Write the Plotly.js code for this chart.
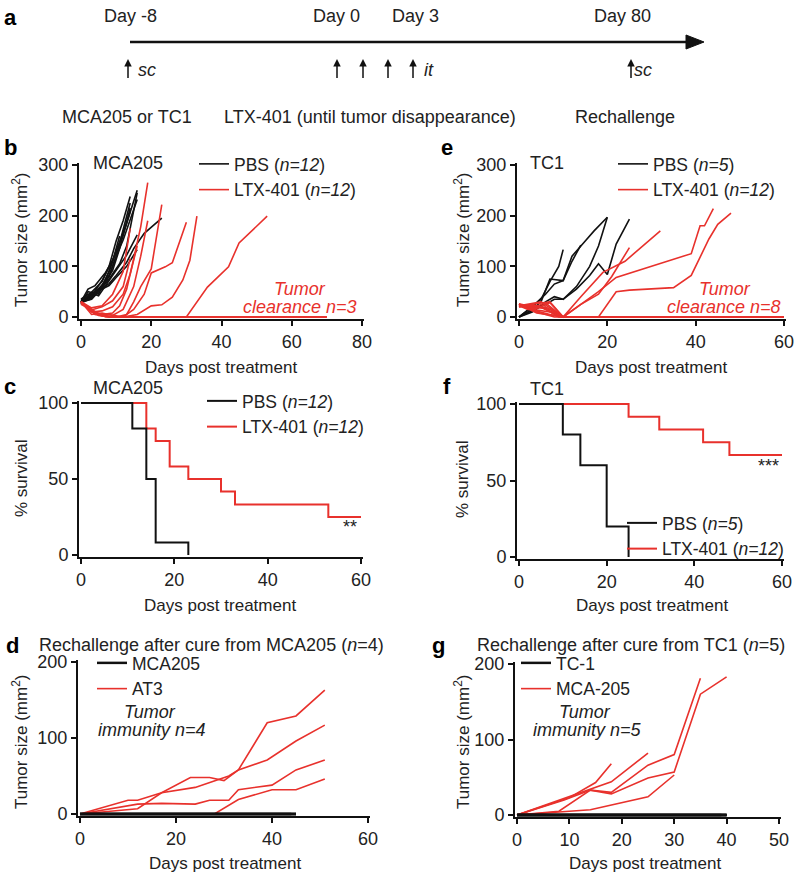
<!DOCTYPE html>
<html>
<head>
<meta charset="utf-8">
<script src="https://cdn.plot.ly/plotly-3.0.1.min.js"></script>
<style>
  html, body { margin: 0; padding: 0; background: #fff; }
  #fig { width: 800px; height: 875px; }
</style>
</head>
<body>
<div id="fig"></div>
<script>
// ---- data ----
// b: MCA205 tumour growth (days, mm2)
var mcaPbsDays = [
  [0, 3, 6, 8, 10, 13, 16], [0, 3, 6, 8, 10, 12, 14], [0, 3, 5, 8, 10, 12, 14],
  [0, 2, 5, 7, 9, 11], [0, 3, 6, 8, 11, 13, 16], [0, 3, 5, 8, 10, 13, 15, 18, 23],
  [0, 2, 5, 8, 10, 13, 16], [0, 3, 6, 9, 11, 14], [0, 3, 5, 8, 10, 12, 16],
  [0, 2, 4, 7, 9, 11], [0, 3, 6, 9, 12, 14], [0, 3, 5, 7, 10, 13, 16]
];
var mcaPbsSize = [
  [30, 45, 62, 90, 130, 185, 250], [28, 50, 70, 100, 150, 190, 238], [32, 40, 55, 80, 120, 170, 225],
  [25, 50, 45, 72, 110, 160], [30, 35, 58, 75, 105, 140, 245], [30, 38, 52, 66, 82, 108, 135, 165, 195],
  [35, 45, 52, 62, 78, 100, 133], [30, 44, 58, 92, 135, 215], [28, 36, 50, 82, 120, 152, 232],
  [30, 55, 62, 88, 112, 142], [33, 42, 72, 112, 162, 208], [30, 47, 42, 62, 92, 122, 162]
];
var mcaLtxDays = [
  [0, 3, 6, 9, 11, 13, 15, 17, 19], [0, 3, 6, 10, 13, 15, 17, 20, 23],
  [0, 4, 8, 12, 15, 18, 20, 24, 26, 28, 30], [0, 4, 8, 12, 16, 20, 23, 26, 29, 31, 33],
  [0, 5, 10, 15, 20, 25, 30, 36, 42, 45, 53], [0, 3, 6, 9, 12, 14], [0, 3, 6, 9, 12, 14],
  [0, 3, 6, 9, 12, 14, 16], [0, 3, 6, 9, 12, 15, 17, 19],
  [0, 4, 8, 70], [0, 3, 7, 70], [0, 5, 9, 70]
];
var mcaLtxSize = [
  [30, 12, 5, 8, 22, 55, 115, 178, 265], [30, 10, 2, 0, 5, 30, 60, 95, 222],
  [30, 5, 0, 0, 15, 45, 87, 99, 107, 148, 187], [30, 8, 5, 0, 5, 22, 24, 39, 73, 112, 199],
  [30, 3, 0, 0, 0, 0, 0, 59, 99, 146, 199], [30, 18, 22, 45, 90, 175], [25, 14, 20, 32, 60, 115],
  [30, 10, 12, 20, 45, 85, 140], [30, 5, 8, 3, 15, 60, 120, 190],
  [30, 8, 0, 0], [28, 12, 0, 0], [30, 6, 0, 0]
];

// e: TC1 tumour growth
var tc1PbsDays = [
  [0, 3, 5, 7, 9, 10], [0, 3, 5, 7, 10, 12, 14], [0, 3, 6, 8, 10, 13, 16, 18, 20],
  [0, 3, 6, 8, 10, 13, 16, 18, 20, 22, 25], [0, 3, 6, 8, 10, 12, 15, 17, 20]
];
var tc1PbsSize = [
  [0, 20, 35, 70, 100, 133], [0, 15, 30, 75, 72, 110, 142], [0, 10, 30, 40, 35, 60, 100, 140, 197],
  [0, 12, 25, 35, 35, 55, 82, 105, 84, 144, 193], [0, 20, 45, 65, 72, 120, 150, 170, 197]
];
var tc1LtxDays = [
  [0, 4, 7, 10, 14, 18, 22, 35, 39, 41, 42, 44], [0, 4, 7, 10, 14, 18, 22, 25, 35, 39, 43, 45, 48],
  [0, 3, 7, 10, 14, 19, 24, 28, 32], [0, 3, 7, 10, 14, 18, 21, 25],
  [0, 3, 7, 10, 60], [0, 5, 10, 60], [0, 3, 6, 10, 60], [0, 4, 8, 60],
  [0, 3, 7, 10, 60], [0, 5, 9, 60], [0, 2, 6, 10, 60], [0, 4, 10, 60]
];
var tc1LtxSize = [
  [25, 18, 28, 0, 25, 50, 78, 115, 125, 180, 180, 214], [25, 12, 5, 0, 0, 0, 50, 53, 58, 82, 154, 183, 205],
  [20, 25, 30, 0, 40, 88, 110, 140, 170], [25, 15, 10, 0, 25, 45, 80, 137],
  [25, 22, 15, 0, 0], [22, 30, 0, 0], [25, 18, 28, 0, 0], [24, 10, 0, 0],
  [20, 25, 12, 0, 0], [25, 20, 0, 0], [22, 15, 20, 0, 0], [25, 8, 0, 0]
];

// c, f: survival (%)
var mcaSurvPbsDays = [0, 11, 14, 16, 23];
var mcaSurvPbs = [100, 83.3, 50, 8.3, 0];
var mcaSurvLtxDays = [0, 14, 16, 19, 23, 30, 33, 53, 60];
var mcaSurvLtx = [100, 83.3, 75, 58.3, 50, 41.7, 33.3, 25, 25];
var tc1SurvPbsDays = [0, 10, 14, 20, 25];
var tc1SurvPbs = [100, 80, 60, 20, 0];
var tc1SurvLtxDays = [0, 25, 32, 42, 48, 60];
var tc1SurvLtx = [100, 91.7, 83.3, 75, 66.7, 66.7];

// d: rechallenge after cure from MCA205
var reMcaDays = [[0, 45], [0, 45], [0, 44], [0, 45]];
var reMcaSize = [[0, 0], [0, 0], [0, 0], [0, 0]];
var reAt3Days = [
  [0, 10, 12, 17, 23, 27, 30, 33, 39, 45, 51], [0, 12, 17, 24, 31, 33, 39, 45, 51],
  [0, 12, 17, 24, 27, 31, 33, 40, 45, 51], [0, 28, 33, 40, 45, 51]
];
var reAt3Size = [
  [0, 18, 18, 28, 48, 48, 44, 58, 120, 129, 163], [0, 7, 28, 35, 50, 58, 71, 96, 117],
  [0, 13, 14, 13, 18, 18, 32, 38, 58, 71], [0, 0, 19, 32, 32, 46]
];

// g: rechallenge after cure from TC1
var reTc1Days = [[0, 40], [0, 40], [0, 40], [0, 39], [0, 40]];
var reTc1Size = [[0, 0], [0, 0], [0, 0], [0, 0], [0, 0]];
var reMca205Days = [
  [0, 10, 15, 18], [0, 8, 14, 18, 25], [0, 9, 14, 18, 25, 30, 35],
  [0, 8, 14, 18, 25, 30, 35, 40], [0, 9, 14, 25, 30]
];
var reMca205Size = [
  [0, 23, 43, 68], [0, 20, 35, 44, 82], [0, 20, 33, 30, 66, 80, 181],
  [0, 5, 33, 28, 49, 57, 160, 183], [0, 4, 7, 24, 53]
];

// ---- drawing ----
var W = 800, H = 875, PAD = 2;
var BLACK = "#111111", RED = "#e8312c", INK = "#222222";
var FONT = "Liberation Sans, Arial, sans-serif";

function lines(daysList, sizeList, color, xa, ya, name, legendId, rank) {
  return daysList.map(function (d, i) {
    return {
      type: "scatter", mode: "lines", x: d, y: sizeList[i], xaxis: xa, yaxis: ya,
      line: { color: color, width: 1.6 },
      name: name, legend: legendId, legendgroup: legendId + rank,
      showlegend: i === 0, legendrank: rank, hoverinfo: "skip"
    };
  });
}

function steps(days, vals, color, xa, ya, name, legendId, rank) {
  return {
    type: "scatter", mode: "lines", x: days, y: vals, xaxis: xa, yaxis: ya,
    line: { color: color, width: 2, shape: "hv" },
    name: name, legend: legendId, legendrank: rank, hoverinfo: "skip"
  };
}

// pixel boxes of each panel: x0/x1 = pixel of range min/max, y0/y1 = pixel of range min/max
var boxes = [
  { x0: 81, x1: 362, y0: 317, y1: 165, xr: [0, 80], yr: [0, 300], xd: 20, yd: 100 }, // b
  { x0: 519, x1: 784, y0: 317, y1: 165, xr: [0, 60], yr: [0, 300], xd: 20, yd: 100 }, // e
  { x0: 81, x1: 361, y0: 555, y1: 403, xr: [0, 60], yr: [0, 100], xd: 20, yd: 50 },  // c
  { x0: 519, x1: 782, y0: 557, y1: 404, xr: [0, 60], yr: [0, 100], xd: 20, yd: 50 }, // f
  { x0: 80, x1: 368, y0: 814, y1: 662, xr: [0, 60], yr: [0, 200], xd: 20, yd: 100 }, // d
  { x0: 517, x1: 779, y0: 815, y1: 664, xr: [0, 50], yr: [0, 200], xd: 10, yd: 100 }  // g
];

var layout = {
  width: W, height: H,
  margin: { l: 0, r: 0, t: 0, b: 0 },
  paper_bgcolor: "#fff", plot_bgcolor: "rgba(0,0,0,0)",
  font: { family: FONT, size: 18, color: INK },
  annotations: [], shapes: []
};

boxes.forEach(function (b, i) {
  var n = i === 0 ? "" : String(i + 1);
  var kx = (b.xr[1] - b.xr[0]) / (b.x1 - b.x0);
  var ky = (b.yr[1] - b.yr[0]) / (b.y0 - b.y1);
  var common = {
    showline: true, linecolor: BLACK, linewidth: 2, mirror: false,
    ticks: "outside", ticklen: 5, tickwidth: 2, tickcolor: BLACK,
    showgrid: false, zeroline: false, fixedrange: true, tick0: 0,
    tickfont: { family: FONT, size: 18, color: INK }
  };
  layout["xaxis" + n] = Object.assign({}, common, {
    domain: [(b.x0 - PAD) / W, (b.x1 + PAD) / W],
    range: [b.xr[0] - PAD * kx, b.xr[1] + PAD * kx],
    dtick: b.xd, anchor: "y" + n
  });
  layout["yaxis" + n] = Object.assign({}, common, {
    domain: [1 - (b.y0 + PAD) / H, 1 - (b.y1 - PAD) / H],
    range: [b.yr[0] - PAD * ky, b.yr[1] + PAD * ky],
    dtick: b.yd, anchor: "x" + n
  });
});

function legendAt(x, y) {
  return {
    x: x / W, y: 1 - y / H, xanchor: "left", yanchor: "top",
    bgcolor: "rgba(0,0,0,0)", borderwidth: 0, itemwidth: 30,
    font: { family: FONT, size: 17.5, color: INK }, traceorder: "normal", tracegroupgap: 0
  };
}
layout.legend = legendAt(194, 146);
layout.legend2 = legendAt(613, 146);
layout.legend3 = legendAt(202, 383);
layout.legend4 = legendAt(622, 505);
layout.legend5 = legendAt(92, 645);
layout.legend6 = legendAt(516, 645);

var data = []
  .concat(lines(mcaPbsDays, mcaPbsSize, BLACK, "x", "y", "PBS (<i>n=12</i>)", "legend", 1))
  .concat(lines(mcaLtxDays, mcaLtxSize, RED, "x", "y", "LTX-401 (<i>n=12</i>)", "legend", 2))
  .concat(lines(tc1PbsDays, tc1PbsSize, BLACK, "x2", "y2", "PBS (<i>n=5</i>)", "legend2", 1))
  .concat(lines(tc1LtxDays, tc1LtxSize, RED, "x2", "y2", "LTX-401 (<i>n=12</i>)", "legend2", 2))
  .concat([
    steps(mcaSurvLtxDays, mcaSurvLtx, RED, "x3", "y3", "LTX-401 (<i>n=12</i>)", "legend3", 2),
    steps(mcaSurvPbsDays, mcaSurvPbs, BLACK, "x3", "y3", "PBS (<i>n=12</i>)", "legend3", 1),
    steps(tc1SurvLtxDays, tc1SurvLtx, RED, "x4", "y4", "LTX-401 (<i>n=12</i>)", "legend4", 2),
    steps(tc1SurvPbsDays, tc1SurvPbs, BLACK, "x4", "y4", "PBS (<i>n=5</i>)", "legend4", 1)
  ])
  .concat(lines(reAt3Days, reAt3Size, RED, "x5", "y5", "AT3", "legend5", 2))
  .concat(lines(reMcaDays, reMcaSize, BLACK, "x5", "y5", "MCA205", "legend5", 1))
  .concat(lines(reMca205Days, reMca205Size, RED, "x6", "y6", "MCA-205", "legend6", 2))
  .concat(lines(reTc1Days, reTc1Size, BLACK, "x6", "y6", "TC-1", "legend6", 1));

// thicker black baselines in d and g
data.forEach(function (t) {
  if ((t.xaxis === "x5" || t.xaxis === "x6") && t.line.color === BLACK) t.line.width = 2.5;
});

function txt(text, x, y, o) {
  layout.annotations.push(Object.assign({
    text: text, x: x / W, y: 1 - y / H, xref: "paper", yref: "paper",
    xanchor: "center", yanchor: "middle", showarrow: false,
    font: { family: FONT, size: 18, color: INK }
  }, o || {}));
}

// panel letters
[["a", 10, 17], ["b", 10, 147], ["c", 10, 386], ["d", 12, 645],
 ["e", 447, 147], ["f", 447, 386], ["g", 438, 645]].forEach(function (p) {
  txt("<b>" + p[0] + "</b>", p[1], p[2], { font: { family: FONT, size: 22, color: "#000" } });
});

// panel a: timeline
layout.shapes.push({
  type: "line", xref: "paper", yref: "paper",
  x0: 130 / W, x1: 690 / W, y0: 1 - 42 / H, y1: 1 - 42 / H,
  line: { color: BLACK, width: 2.5 }
});
layout.shapes.push({
  type: "path", xref: "paper", yref: "paper",
  path: "M" + 686 / W + "," + (1 - 35 / H) + " L" + 704 / W + "," + (1 - 42 / H) +
        " L" + 686 / W + "," + (1 - 49 / H) + " Z",
  fillcolor: BLACK, line: { color: BLACK, width: 1 }
});
[128, 337, 363, 388, 413, 631].forEach(function (x) {
  layout.annotations.push({
    text: " ", font: { size: 1 }, x: x / W, y: 1 - 59 / H, xref: "paper", yref: "paper",
    showarrow: true, ax: 0, ay: 21, arrowhead: 2, arrowsize: 1, arrowwidth: 1.5, arrowcolor: BLACK
  });
});
txt("Day -8", 130, 16); txt("Day 0", 336, 16); txt("Day 3", 415, 16); txt("Day 80", 622, 16);
txt("<i>sc</i>", 147, 70); txt("<i>it</i>", 429, 70); txt("<i>sc</i>", 643, 70);
txt("MCA205 or TC1", 127, 117);
txt("LTX-401 (until tumor disappearance)", 370, 117);
txt("Rechallenge", 625, 117);

// panel titles and notes
txt("MCA205", 128, 163); txt("TC1", 547, 163);
txt("MCA205", 128, 388); txt("TC1", 547, 389);
txt("Rechallenge after cure from MCA205 (<i>n</i>=4)", 37, 645, { xanchor: "left" });
txt("Rechallenge after cure from TC1 (<i>n</i>=5)", 475, 645, { xanchor: "left" });

var redFont = { family: FONT, size: 18, color: RED };
txt("<i>Tumor</i>", 300, 289, { font: redFont });
txt("<i>clearance n=3</i>", 300, 307, { font: redFont });
txt("<i>Tumor</i>", 725, 289, { font: redFont });
txt("<i>clearance n=8</i>", 724, 307, { font: redFont });
txt("<i>Tumor</i>", 150, 712); txt("<i>immunity n=4</i>", 152, 730);
txt("<i>Tumor</i>", 585, 712); txt("<i>immunity n=5</i>", 587, 730);
txt("**", 350, 527); txt("***", 768, 466);

// axis titles
var tf = { font: { family: FONT, size: 17, color: INK } };
txt("Days post treatment", 221, 367, tf); txt("Days post treatment", 651, 367, tf);
txt("Days post treatment", 220, 605, tf); txt("Days post treatment", 652, 605, tf);
txt("Days post treatment", 225, 863, tf); txt("Days post treatment", 645, 863, tf);
var vt = function (s, x, y) { txt(s, x, y, Object.assign({ textangle: -90 }, tf)); };
vt("Tumor size (mm<sup>2</sup>)", 20, 240); vt("Tumor size (mm<sup>2</sup>)", 462, 240);
vt("% survival", 22, 479); vt("% survival", 462, 480);
vt("Tumor size (mm<sup>2</sup>)", 20, 742); vt("Tumor size (mm<sup>2</sup>)", 462, 742);

Plotly.newPlot("fig", data, layout, { displayModeBar: false, staticPlot: true });
</script>
</body>
</html>
